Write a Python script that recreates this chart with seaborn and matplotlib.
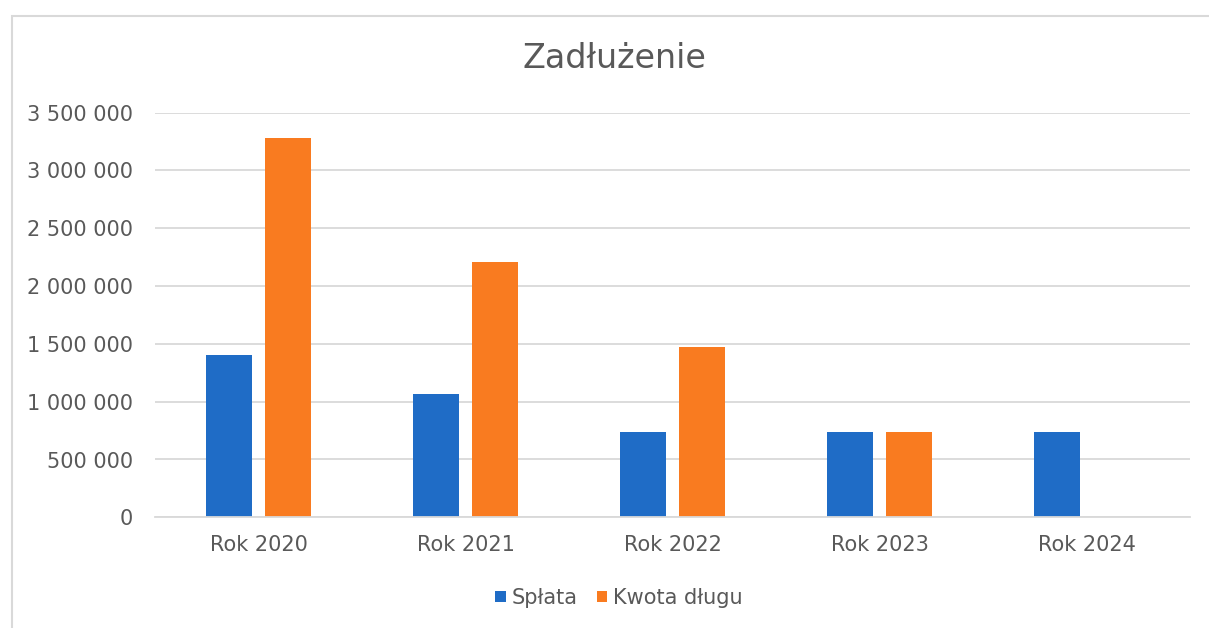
import pandas as pd
import numpy as np
import matplotlib
matplotlib.use("Agg")
import matplotlib.pyplot as plt
import matplotlib.ticker as mticker
from matplotlib.patches import Rectangle
import seaborn as sns

years = ["Rok 2020", "Rok 2021", "Rok 2022", "Rok 2023", "Rok 2024"]
splata = [1400000, 1070000, 735000, 735000, 735000]
kwota_dlugu = [3285000, 2210000, 1470000, 735000, 0]
series_names = ["Spłata", "Kwota długu"]
colors = ["#1F6CC6", "#F97B20"]

df = pd.DataFrame({
    "rok": years * 2,
    "seria": [series_names[0]] * len(years) + [series_names[1]] * len(years),
    "wartosc": splata + kwota_dlugu,
})

sns.set_theme(style="white")
plt.rcParams["font.family"] = ["DejaVu Sans"]

fig = plt.figure(figsize=(12.09, 6.28), dpi=100)
ax = fig.add_axes([155 / 1209, 110.7 / 628, 1035 / 1209, 404.6 / 628])

sns.barplot(
    data=df, x="rok", y="wartosc", hue="seria",
    palette=colors, width=0.567, gap=0.216,
    linewidth=0, saturation=1, ax=ax, legend=True,
)

ax.set_xlim(-0.5, 4.5)
ax.set_ylim(0, 3500000)
ax.yaxis.set_major_locator(mticker.MultipleLocator(500000))
ax.yaxis.set_major_formatter(
    mticker.FuncFormatter(lambda v, p: f"{int(v):,}".replace(",", " "))
)
ax.grid(axis="y", color="#D9D9D9", linewidth=1.3)
ax.set_axisbelow(True)
for s in ["top", "right", "left"]:
    ax.spines[s].set_visible(False)
ax.spines["bottom"].set_color("#D9D9D9")
ax.spines["bottom"].set_linewidth(1.3)
ax.tick_params(axis="y", length=0, pad=16, labelsize=15, labelcolor="#595959")
ax.tick_params(axis="x", length=0, pad=13, labelsize=15, labelcolor="#595959")
ax.set_xlabel("")
ax.set_ylabel("")

leg = ax.legend(
    loc="center", bbox_to_anchor=(0.512, 0.048), bbox_transform=fig.transFigure,
    ncol=2, frameon=False, fontsize=15, handlelength=0.5, handleheight=0.5,
    handletextpad=0.3, columnspacing=0.9,
)
for t in leg.get_texts():
    t.set_color("#595959")

fig.text(0.5084, 0.8917, "Zadłużenie", ha="center", va="baseline",
         fontsize=24, color="#595959")

# light frame around the chart, running off the right and bottom edges
fig.patches.append(Rectangle((12 / 1209, -0.1), 1.2, (628 - 16) / 628 + 0.1,
                             transform=fig.transFigure, fill=False,
                             edgecolor="#D9D9D9", linewidth=1.5))

fig.savefig("out.png", dpi=100)
